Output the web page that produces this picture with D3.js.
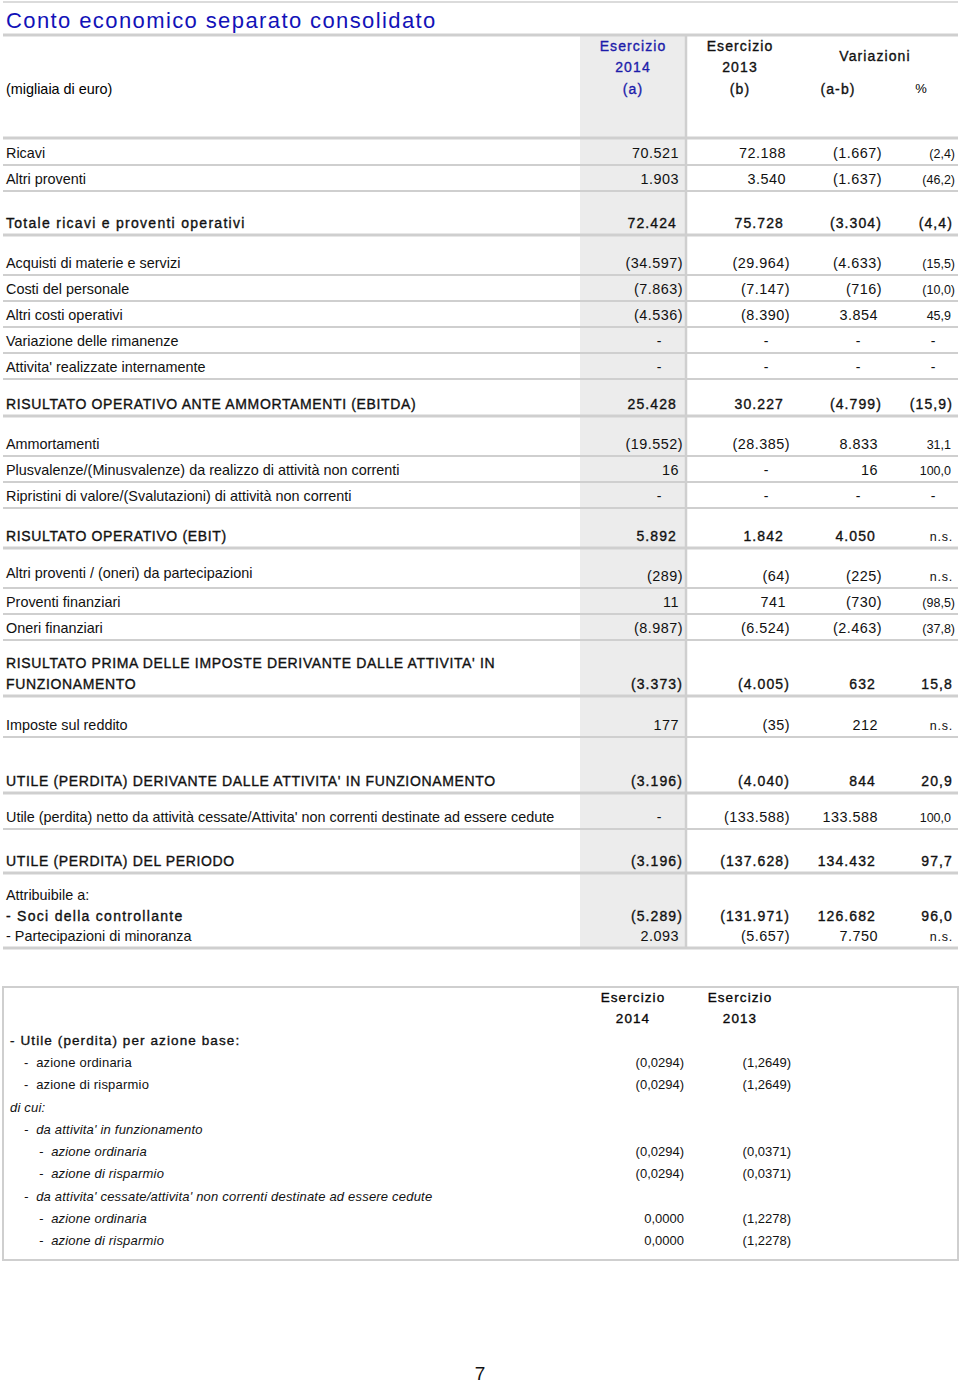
<!DOCTYPE html>
<html>
<head>
<meta charset="utf-8">
<script src="https://cdn.jsdelivr.net/npm/d3@7"></script>
<style>
body { margin: 0; background: #fff; }
svg text { font-family: "Liberation Sans", Arial, sans-serif; }
</style>
</head>
<body>
<div id="chart"></div>
<script>
var width = 960;
var height = 1383;

// Conto economico: etichette e valori (migliaia di euro)
var labels = [
  "Ricavi", "Altri proventi", "Totale ricavi e proventi operativi",
  "Acquisti di materie e servizi", "Costi del personale", "Altri costi operativi",
  "Variazione delle rimanenze", "Attivita' realizzate internamente",
  "RISULTATO OPERATIVO ANTE AMMORTAMENTI (EBITDA)",
  "Ammortamenti", "Plusvalenze/(Minusvalenze) da realizzo di attività non correnti",
  "Ripristini di valore/(Svalutazioni) di attività non correnti",
  "RISULTATO OPERATIVO (EBIT)",
  "Altri proventi / (oneri) da partecipazioni", "Proventi finanziari", "Oneri finanziari",
  "RISULTATO PRIMA DELLE IMPOSTE DERIVANTE DALLE ATTIVITA' IN|FUNZIONAMENTO",
  "Imposte sul reddito",
  "UTILE (PERDITA) DERIVANTE DALLE ATTIVITA' IN FUNZIONAMENTO",
  "Utile (perdita) netto da attività cessate/Attivita' non correnti destinate ad essere cedute",
  "UTILE (PERDITA) DEL PERIODO",
  "Attribuibile a:", "- Soci della controllante", "- Partecipazioni di minoranza"
];
var esercizio2014 = ["70.521", "1.903", "72.424", "(34.597)", "(7.863)", "(4.536)", "-", "-",
  "25.428", "(19.552)", "16", "-", "5.892", "(289)", "11", "(8.987)", "(3.373)", "177",
  "(3.196)", "-", "(3.196)", "", "(5.289)", "2.093"];
var esercizio2013 = ["72.188", "3.540", "75.728", "(29.964)", "(7.147)", "(8.390)", "-", "-",
  "30.227", "(28.385)", "-", "-", "1.842", "(64)", "741", "(6.524)", "(4.005)", "(35)",
  "(4.040)", "(133.588)", "(137.628)", "", "(131.971)", "(5.657)"];
var variazioni = ["(1.667)", "(1.637)", "(3.304)", "(4.633)", "(716)", "3.854", "-", "-",
  "(4.799)", "8.833", "16", "-", "4.050", "(225)", "(730)", "(2.463)", "632", "212",
  "844", "133.588", "134.432", "", "126.682", "7.750"];
var variazioniPct = ["(2,4)", "(46,2)", "(4,4)", "(15,5)", "(10,0)", "45,9", "-", "-",
  "(15,9)", "31,1", "100,0", "-", "n.s.", "n.s.", "(98,5)", "(37,8)", "15,8", "n.s.",
  "20,9", "100,0", "97,7", "", "96,0", "n.s."];
var rowBold = [0,0,1,0,0,0,0,0,1,0,0,0,1,0,0,0,1,0,1,0,1,0,1,0];

// Utile per azione
var epsLabels = ["- Utile (perdita) per azione base:", "- azione ordinaria", "- azione di risparmio",
  "di cui:", "- da attivita' in funzionamento", "- azione ordinaria", "- azione di risparmio",
  "- da attivita' cessate/attivita' non correnti destinate ad essere cedute",
  "- azione ordinaria", "- azione di risparmio"];
var eps2014 = ["", "(0,0294)", "(0,0294)", "", "", "(0,0294)", "(0,0294)", "", "0,0000", "0,0000"];
var eps2013 = ["", "(1,2649)", "(1,2649)", "", "", "(0,0371)", "(0,0371)", "", "(1,2278)", "(1,2278)"];
var epsIndent = [0, 1, 1, 0, 1, 2, 2, 1, 2, 2];
var epsItalic = [0, 0, 0, 1, 1, 1, 1, 1, 1, 1];

// layout: altezza di ogni riga e tipo di linea sotto
var rowHeights = [27,26,44,40,26,26,26,26,37,40,26,26,40,40,26,26,56,41,56,36,44,34,21,20];
var rowLine = [1,1,2,1,1,1,1,1,2,1,1,1,2,1,1,1,2,1,2,1,2,0,0,2];

var grey = "#cfcfcf";
var blue = "#1c1caa";

var canvas = d3.select("#chart").append("svg")
  .attr("width", width).attr("height", height);

var tableTop = 138;
var bottoms = Array.from(d3.cumsum(rowHeights), function(h) { return tableTop + h; });
var tableBottom = bottoms[bottoms.length - 1];

// colonne: bordo destro
var colX = d3.scaleOrdinal().domain(["a", "b", "v", "p"]).range([683, 790, 882, 955]);

// colonna evidenziata 2014
canvas.append("rect").attr("x", 580).attr("y", 35).attr("width", 105)
  .attr("height", tableBottom - 35).attr("fill", "#ececec");
canvas.append("line").attr("x1", 686).attr("x2", 686).attr("y1", 35).attr("y2", tableBottom)
  .attr("stroke", grey).attr("stroke-width", 2.5);

// linee titolo
canvas.append("line").attr("x1", 3).attr("x2", 958).attr("y1", 2).attr("y2", 2)
  .attr("stroke", grey).attr("stroke-width", 1.5);
canvas.append("line").attr("x1", 3).attr("x2", 958).attr("y1", 35).attr("y2", 35)
  .attr("stroke", grey).attr("stroke-width", 3);
canvas.append("line").attr("x1", 3).attr("x2", 958).attr("y1", tableTop).attr("y2", tableTop)
  .attr("stroke", grey).attr("stroke-width", 3);

canvas.append("text").attr("x", 6).attr("y", 28)
  .attr("font-size", 22).attr("letter-spacing", 1.4).attr("fill", "#1212b8")
  .text("Conto economico separato consolidato");

// testo "spaziato" delle righe di totale
var bigSpaced = function(sel) {
  return sel.attr("font-size", 14).attr("letter-spacing", 1.1)
    .attr("stroke-width", 0.35);
};
var head = canvas.append("g").attr("text-anchor", "middle");
[["Esercizio", 51], ["2014", 72], ["(a)", 94]].forEach(function(d) {
  bigSpaced(head.append("text").attr("x", 633).attr("y", d[1]).text(d[0]))
    .attr("fill", blue).attr("stroke", blue);
});
[["Esercizio", 51], ["2013", 72], ["(b)", 94]].forEach(function(d) {
  bigSpaced(head.append("text").attr("x", 740).attr("y", d[1]).text(d[0]))
    .attr("fill", "#111").attr("stroke", "#111");
});
bigSpaced(head.append("text").attr("x", 875).attr("y", 61).text("Variazioni"))
  .attr("fill", "#111").attr("stroke", "#111");
bigSpaced(head.append("text").attr("x", 838).attr("y", 94).text("(a-b)"))
  .attr("fill", "#111").attr("stroke", "#111");
head.append("text").attr("x", 921).attr("y", 93).attr("font-size", 13).text("%");
canvas.append("text").attr("x", 6).attr("y", 94).attr("font-size", 14.4).text("(migliaia di euro)");

// righe
var rows = canvas.append("g");
labels.forEach(function(lab, i) {
  var bottom = bottoms[i];
  var base = bottom - 7;
  var bold = rowBold[i] === 1;
  var rowBig = bold || i === 22;
  var g = rows.append("g");

  if (rowLine[i] > 0) {
    g.append("line").attr("x1", 3).attr("x2", 958).attr("y1", bottom).attr("y2", bottom)
      .attr("stroke", grey).attr("stroke-width", rowLine[i] === 2 ? 3 : 2);
  }

  var parts = lab.split("|");
  parts.forEach(function(p, k) {
    var t = g.append("text").attr("x", 6)
      .attr("y", base - (parts.length - 1 - k) * 21 - (i === 13 ? 3 : 0))
      .attr("fill", "#111")
      .text(p);
    if (rowBig) {
      bigSpaced(t).attr("stroke", "#111")
        .attr("letter-spacing", p === p.toUpperCase() ? 0.64 : 1.28);
    } else {
      t.attr("font-size", 14.4);
    }
  });

  var vals = [["a", esercizio2014[i]], ["b", esercizio2013[i]], ["v", variazioni[i]], ["p", variazioniPct[i]]];
  vals.forEach(function(v) {
    var s = v[1];
    if (!s) return;
    var x = colX(v[0]);
    var isPct = v[0] === "p";
    var paren = s.slice(-1) === ")";
    var t = g.append("text").attr("y", base).attr("fill", "#111").text(s);
    if (s === "-") {
      t.attr("x", x - (isPct ? 22 : 24)).attr("text-anchor", "middle").attr("font-size", 14);
      return;
    }
    t.attr("text-anchor", "end");
    if (rowBig && s !== "n.s.") {
      bigSpaced(t).attr("stroke", "#111");
      t.attr("x", isPct ? x - 2 : (paren ? x : x - 6));
    } else if (s === "n.s.") {
      t.attr("font-size", 12.5).attr("letter-spacing", 0.8).attr("x", x - 2);
    } else if (isPct) {
      t.attr("font-size", 12.5).attr("x", paren ? x : x - 4);
    } else {
      t.attr("font-size", 14.4).attr("letter-spacing", 0.5).attr("x", paren ? x : x - 4);
    }
  });
});

// tabella utile per azione
var boxTop = 987, boxBottom = 1260;
canvas.append("rect").attr("x", 3).attr("y", boxTop).attr("width", 955)
  .attr("height", boxBottom - boxTop).attr("fill", "none")
  .attr("stroke", grey).attr("stroke-width", 2);

var epsHead = canvas.append("g").attr("text-anchor", "middle");
[["Esercizio", 633, 1002], ["2014", 633, 1023], ["Esercizio", 740, 1002], ["2013", 740, 1023]]
  .forEach(function(d) {
    bigSpaced(epsHead.append("text").attr("x", d[1]).attr("y", d[2]).text(d[0]))
      .attr("font-size", 13.5).attr("stroke", "#111");
  });

var epsY = d3.scaleLinear().domain([0, epsLabels.length - 1]).range([1045, 1245]);
var indentX = [10, 24, 39];
epsLabels.forEach(function(lab, i) {
  var y = epsY(i);
  var t = canvas.append("text").attr("x", indentX[epsIndent[i]]).attr("y", y)
    .attr("font-size", 13).attr("letter-spacing", 0.2).attr("fill", "#111")
    .attr("xml:space", "preserve")
    .text(i === 0 ? lab : lab.replace("- ", "-  "));
  if (epsItalic[i]) t.attr("font-style", "italic");
  if (i === 0) bigSpaced(t).attr("font-size", 13.5).attr("stroke", "#111");
  [[684, eps2014[i]], [791, eps2013[i]]].forEach(function(v) {
    if (!v[1]) return;
    canvas.append("text").attr("x", v[0]).attr("y", y).attr("text-anchor", "end")
      .attr("font-size", 13).attr("fill", "#111").text(v[1]);
  });
});

// numero pagina
canvas.append("text").attr("x", 480).attr("y", 1380).attr("text-anchor", "middle")
  .attr("font-size", 19).attr("fill", "#111").text("7");
</script>
</body>
</html>
